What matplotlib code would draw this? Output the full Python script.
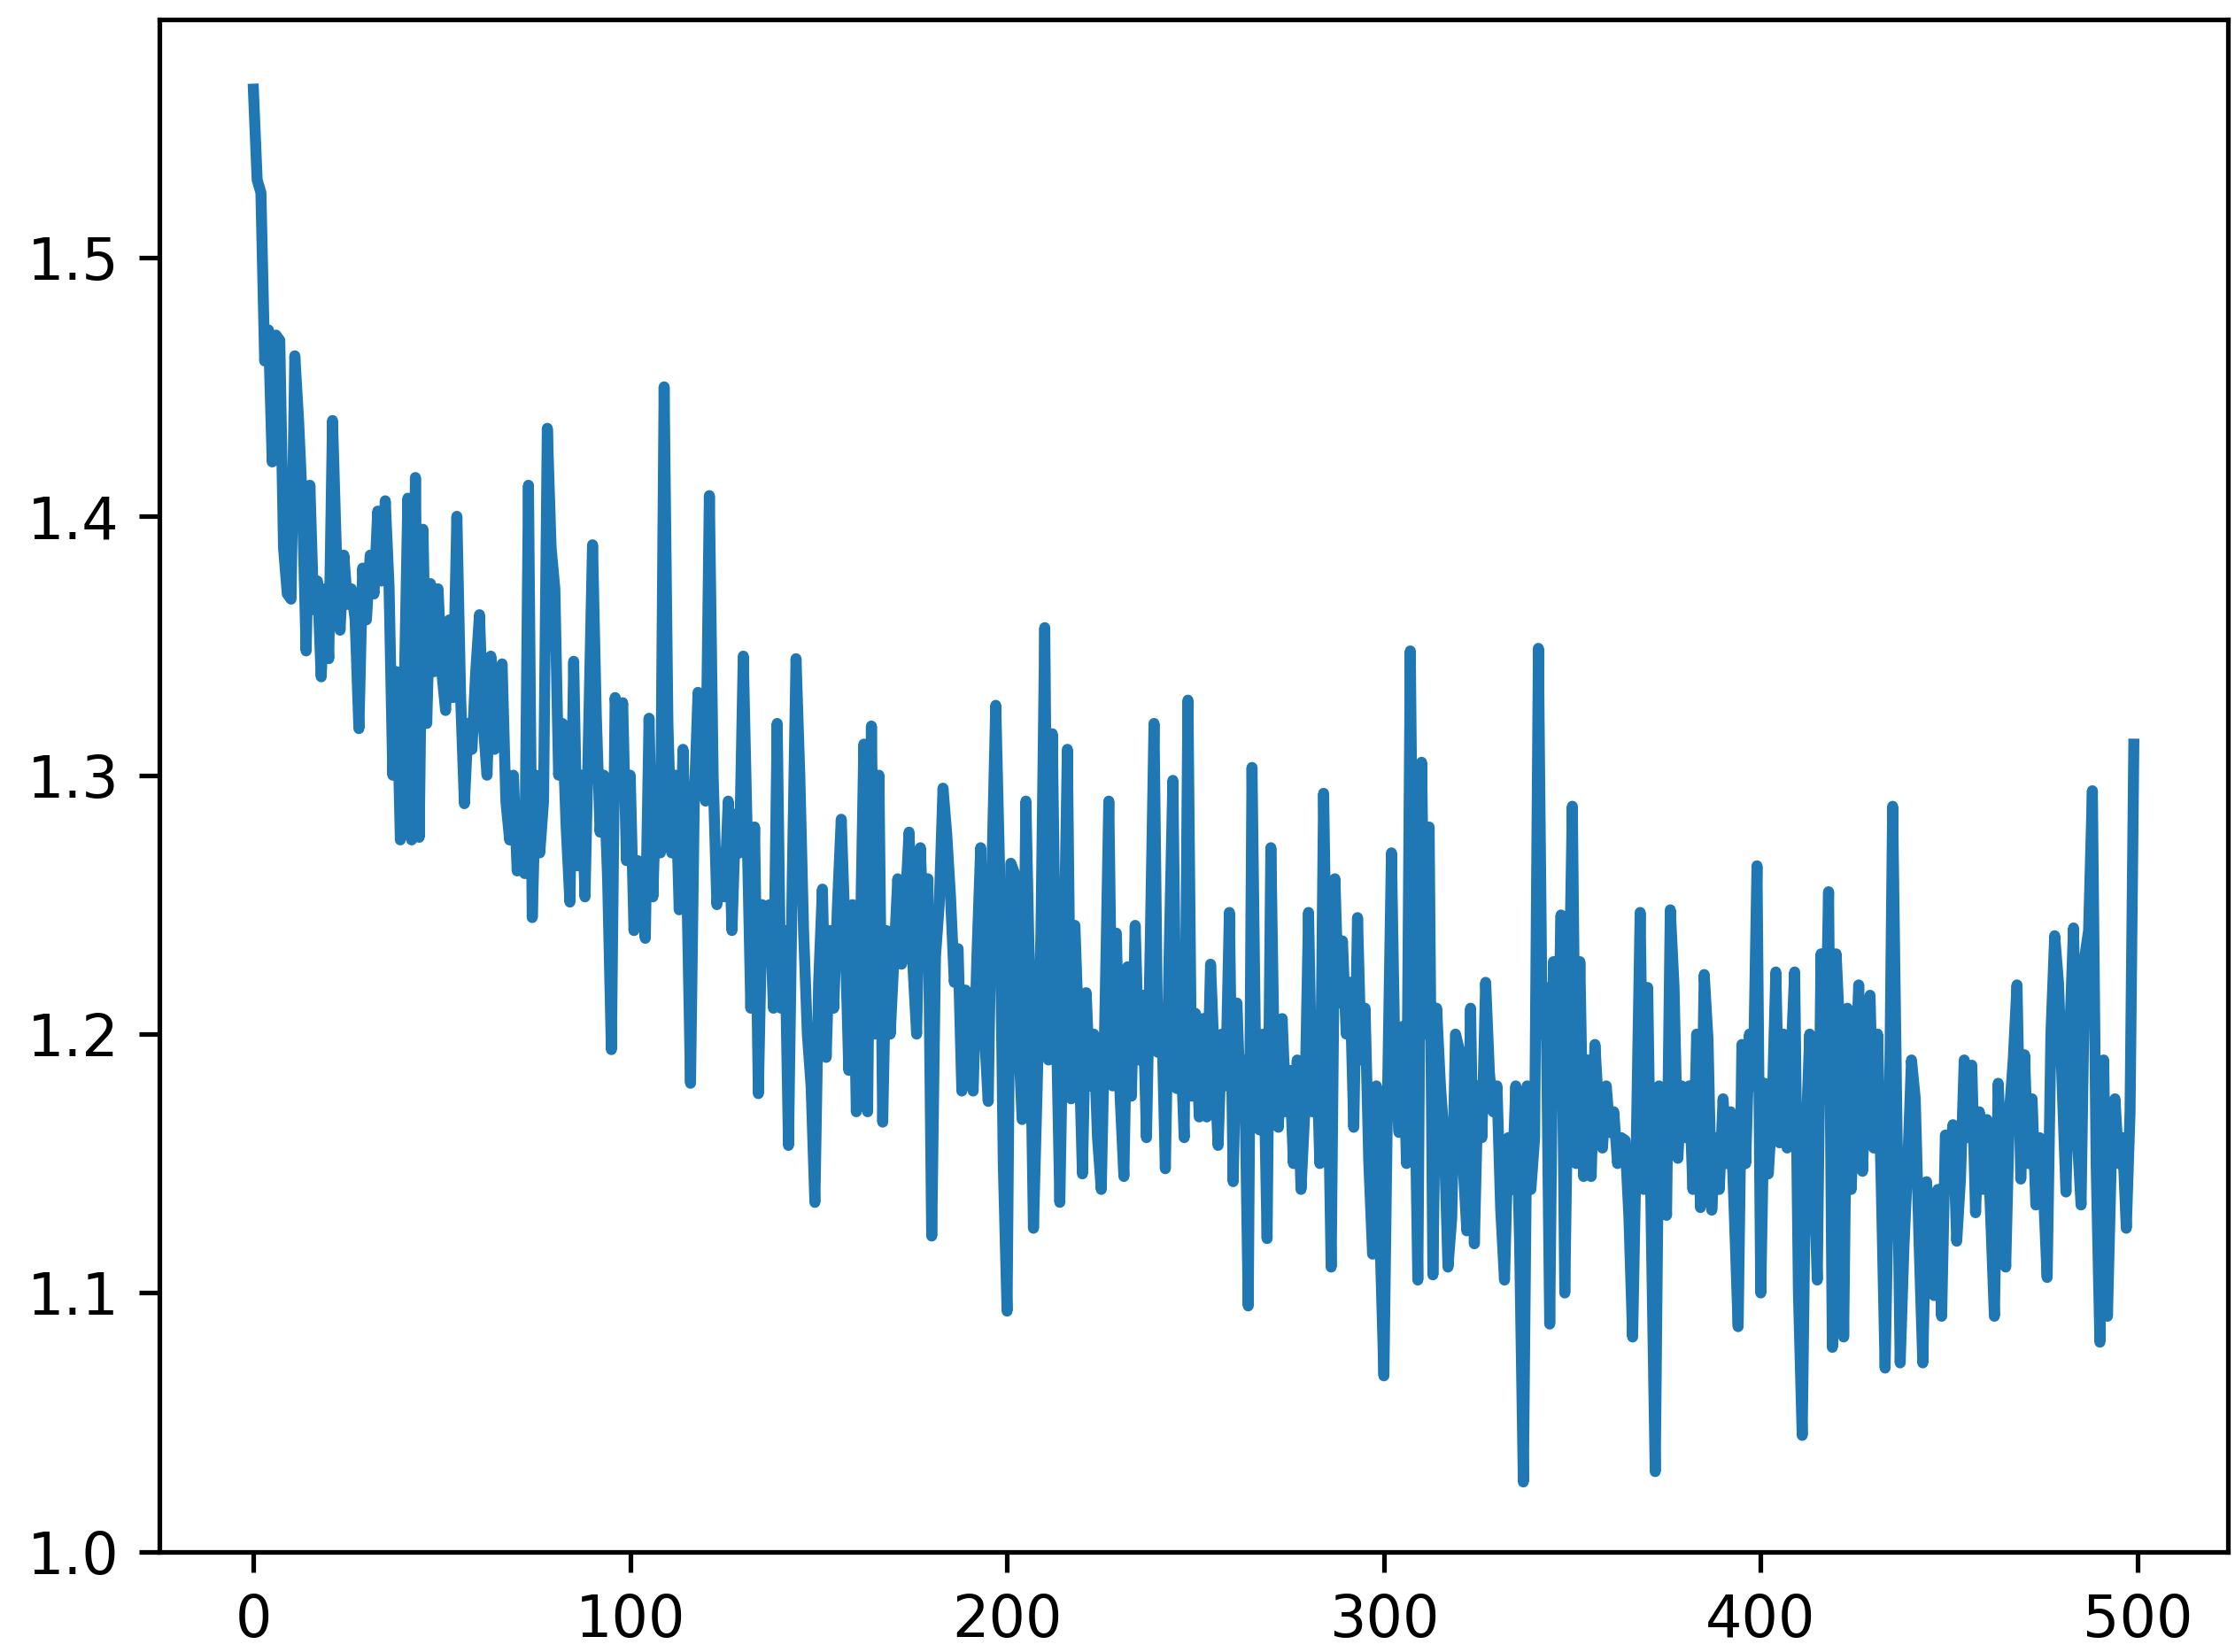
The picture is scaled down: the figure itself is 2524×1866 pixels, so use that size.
import matplotlib
matplotlib.use("Agg")
import matplotlib.pyplot as plt

# loss values, one per step (0..499)
loss_0_99 = [
    1.565, 1.530, 1.525, 1.460, 1.472, 1.421, 1.470, 1.468, 1.388, 1.370,
    1.368, 1.462, 1.437, 1.405, 1.348, 1.412, 1.364, 1.375, 1.338, 1.372,
    1.345, 1.437, 1.388, 1.356, 1.385, 1.366, 1.372, 1.360, 1.318, 1.380,
    1.360, 1.385, 1.370, 1.402, 1.375, 1.406, 1.373, 1.300, 1.340, 1.275,
    1.330, 1.407, 1.275, 1.415, 1.276, 1.395, 1.320, 1.374, 1.340, 1.372,
    1.340, 1.325, 1.360, 1.330, 1.400, 1.330, 1.289, 1.320, 1.310, 1.340,
    1.362, 1.320, 1.300, 1.346, 1.310, 1.330, 1.343, 1.290, 1.275, 1.300,
    1.263, 1.285, 1.262, 1.412, 1.245, 1.300, 1.270, 1.290, 1.434, 1.388,
    1.372, 1.300, 1.320, 1.280, 1.251, 1.344, 1.265, 1.300, 1.253, 1.320,
    1.389, 1.323, 1.278, 1.300, 1.260, 1.194, 1.330, 1.310, 1.328, 1.267,
]
loss_100_199 = [
    1.300, 1.240, 1.267, 1.255, 1.237, 1.322, 1.253, 1.300, 1.270, 1.450,
    1.320, 1.270, 1.300, 1.248, 1.310, 1.260, 1.181, 1.290, 1.332, 1.300,
    1.290, 1.408, 1.300, 1.250, 1.270, 1.253, 1.290, 1.240, 1.285, 1.270,
    1.346, 1.280, 1.210, 1.280, 1.177, 1.250, 1.230, 1.250, 1.210, 1.320,
    1.210, 1.240, 1.157, 1.260, 1.345, 1.300, 1.240, 1.200, 1.180, 1.135,
    1.220, 1.256, 1.191, 1.240, 1.210, 1.250, 1.283, 1.240, 1.186, 1.250,
    1.170, 1.230, 1.312, 1.170, 1.319, 1.200, 1.300, 1.166, 1.240, 1.200,
    1.230, 1.260, 1.227, 1.250, 1.278, 1.227, 1.200, 1.272, 1.230, 1.260,
    1.122, 1.230, 1.250, 1.295, 1.277, 1.253, 1.220, 1.233, 1.178, 1.217,
    1.200, 1.178, 1.230, 1.272, 1.200, 1.174, 1.265, 1.327, 1.265, 1.150,
]
loss_200_299 = [
    1.093, 1.266, 1.262, 1.200, 1.167, 1.290, 1.220, 1.125, 1.180, 1.240,
    1.357, 1.190, 1.316, 1.210, 1.135, 1.220, 1.310, 1.175, 1.242, 1.200,
    1.146, 1.216, 1.180, 1.200, 1.160, 1.140, 1.210, 1.290, 1.180, 1.239,
    1.176, 1.145, 1.226, 1.176, 1.242, 1.190, 1.215, 1.160, 1.235, 1.320,
    1.193, 1.210, 1.148, 1.230, 1.298, 1.179, 1.200, 1.160, 1.329, 1.176,
    1.208, 1.168, 1.206, 1.168, 1.227, 1.190, 1.157, 1.200, 1.180, 1.247,
    1.143, 1.212, 1.170, 1.190, 1.095, 1.303, 1.186, 1.163, 1.200, 1.121,
    1.272, 1.180, 1.164, 1.206, 1.170, 1.186, 1.150, 1.190, 1.140, 1.170,
    1.247, 1.170, 1.200, 1.150, 1.293, 1.200, 1.110, 1.260, 1.212, 1.236,
    1.200, 1.220, 1.164, 1.245, 1.190, 1.210, 1.150, 1.115, 1.180, 1.120,
]
loss_300_399 = [
    1.068, 1.180, 1.270, 1.184, 1.162, 1.203, 1.150, 1.348, 1.200, 1.105,
    1.305, 1.200, 1.280, 1.107, 1.210, 1.180, 1.160, 1.110, 1.129, 1.200,
    1.194, 1.150, 1.124, 1.210, 1.119, 1.180, 1.160, 1.220, 1.185, 1.170,
    1.180, 1.132, 1.105, 1.160, 1.140, 1.180, 1.120, 1.027, 1.180, 1.140,
    1.160, 1.349, 1.200, 1.218, 1.088, 1.228, 1.180, 1.246, 1.100, 1.200,
    1.288, 1.150, 1.228, 1.145, 1.190, 1.145, 1.196, 1.170, 1.156, 1.180,
    1.162, 1.170, 1.150, 1.160, 1.159, 1.130, 1.083, 1.160, 1.247, 1.140,
    1.218, 1.120, 1.031, 1.180, 1.156, 1.130, 1.248, 1.218, 1.152, 1.180,
    1.160, 1.180, 1.140, 1.200, 1.133, 1.223, 1.198, 1.132, 1.160, 1.140,
    1.175, 1.150, 1.170, 1.130, 1.087, 1.196, 1.150, 1.200, 1.180, 1.265,
]
loss_400_499 = [
    1.100, 1.181, 1.146, 1.170, 1.224, 1.158, 1.200, 1.156, 1.190, 1.224,
    1.100, 1.045, 1.160, 1.200, 1.150, 1.105, 1.231, 1.180, 1.255, 1.079,
    1.231, 1.200, 1.083, 1.210, 1.140, 1.180, 1.219, 1.147, 1.190, 1.215,
    1.156, 1.200, 1.140, 1.071, 1.150, 1.288, 1.180, 1.073, 1.118, 1.150,
    1.190, 1.175, 1.120, 1.073, 1.143, 1.120, 1.099, 1.140, 1.091, 1.161,
    1.150, 1.165, 1.120, 1.144, 1.190, 1.160, 1.188, 1.131, 1.170, 1.140,
    1.167, 1.130, 1.091, 1.181, 1.150, 1.110, 1.170, 1.190, 1.219, 1.144,
    1.192, 1.150, 1.175, 1.134, 1.160, 1.140, 1.106, 1.200, 1.238, 1.220,
    1.180, 1.139, 1.200, 1.241, 1.160, 1.134, 1.230, 1.240, 1.294, 1.150,
    1.081, 1.190, 1.091, 1.150, 1.175, 1.150, 1.160, 1.125, 1.170, 1.312,
]

losses = loss_0_99 + loss_100_199 + loss_200_299 + loss_300_399 + loss_400_499

fig = plt.figure(figsize=(2524 / 470, 1866 / 470), dpi=470)
ax = fig.add_axes([0.0713, 0.0606, 0.9255, 0.9276])
ax.plot(losses, linewidth=1.9)
ax.set_xticks([0, 100, 200, 300, 400, 500])
ax.set_yticks([1.0, 1.1, 1.2, 1.3, 1.4, 1.5])

fig.savefig("out.png", dpi=470)
